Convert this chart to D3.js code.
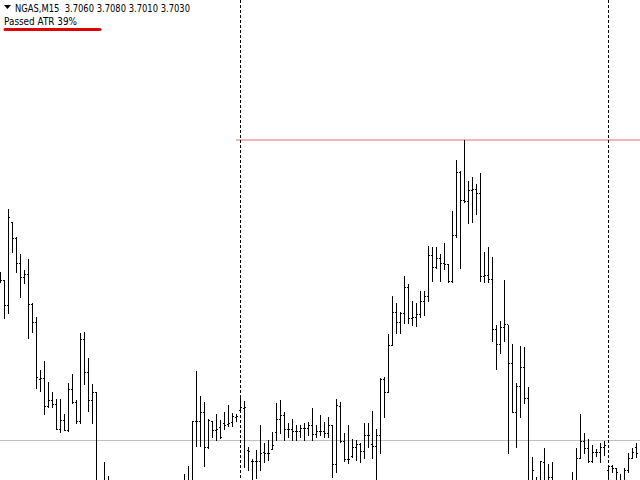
<!DOCTYPE html>
<html>
<head>
<meta charset="utf-8">
<script src="https://cdn.jsdelivr.net/npm/d3@7"></script>
<style>
  html, body { margin: 0; padding: 0; background: #ffffff; }
  svg { display: block; }
</style>
</head>
<body>
<svg id="chart" width="640" height="480"></svg>
<script>
const symbol = "NGAS";
const timeframe = "M15";
const indicatorLabel = "Passed ATR 39%";

const open = [
  3.7920, 3.7895, 3.7770, 3.8185, 3.8105, 3.7980, 3.7910, 3.7925, 3.7775, 3.7685,
  3.7400, 3.7405, 3.7265, 3.7295, 3.7275, 3.7150, 3.7195, 3.7145, 3.7350, 3.7285,
  3.7190, 3.7600, 3.7435, 3.7295, 3.7335, 3.6745, 3.6695, 3.6770, 3.6735, 3.6645,
  3.6695, 3.6670, 3.6595, 3.6645, 3.6735, 3.6695, 3.6655, 3.6720, 3.6755, 3.6705,
  3.6745, 3.6795, 3.6770, 3.6805, 3.6835, 3.6795, 3.6820, 3.6845, 3.6825, 3.7190,
  3.7190, 3.7235, 3.7060, 3.7190, 3.7145, 3.7160, 3.7180, 3.7175, 3.7185, 3.7210,
  3.7245, 3.7255, 3.7045, 3.6990, 3.6990, 3.6990, 3.7035, 3.7030, 3.7050, 3.7135,
  3.7200, 3.7220, 3.7150, 3.7150, 3.7140, 3.7140, 3.7155, 3.7155, 3.7170, 3.7125,
  3.7140, 3.7140, 3.7130, 3.7170, 3.6975, 3.7265, 3.7090, 3.7000, 3.7015, 3.7060,
  3.7075, 3.7040, 3.7120, 3.7075, 3.7065, 3.7120, 3.7400, 3.7335, 3.7570, 3.7735,
  3.7685, 3.7730, 3.7860, 3.7705, 3.7710, 3.7725, 3.7790, 3.7815, 3.8020, 3.7960,
  3.8005, 3.7980, 3.7975, 3.7890, 3.8120, 3.8435, 3.8295, 3.8290, 3.8345, 3.8350,
  3.8330, 3.7915, 3.7920, 3.7900, 3.7650, 3.7575, 3.7660, 3.7675, 3.7480, 3.7235,
  3.7365, 3.7460, 3.7305, 3.6845, 3.6870, 3.6820, 3.6985, 3.6870, 3.6910, 3.6820,
  3.6745, 3.6770, 3.6805, 3.6845, 3.6870, 3.7005, 3.7090, 3.7055, 3.6990, 3.7035,
  3.7035, 3.7060, 3.6945, 3.6965, 3.6955, 3.6895, 3.6870, 3.6945, 3.7005, 3.7060
];
const high = [
  3.7935, 3.7895, 3.8250, 3.8185, 3.8110, 3.8025, 3.7945, 3.8000, 3.7780, 3.7710,
  3.7445, 3.7490, 3.7385, 3.7335, 3.7300, 3.7300, 3.7225, 3.7380, 3.7425, 3.7295,
  3.7630, 3.7635, 3.7505, 3.7375, 3.7335, 3.6845, 3.6985, 3.6915, 3.6820, 3.6745,
  3.6795, 3.6770, 3.6720, 3.6770, 3.6805, 3.6795, 3.6745, 3.6795, 3.6820, 3.6770,
  3.6835, 3.6855, 3.6825, 3.6870, 3.6875, 3.6855, 3.6925, 3.6965, 3.7190, 3.7440,
  3.7315, 3.7285, 3.7200, 3.7190, 3.7225, 3.7195, 3.7235, 3.7270, 3.7230, 3.7225,
  3.7315, 3.7290, 3.7060, 3.7000, 3.7045, 3.7170, 3.7080, 3.7095, 3.7135, 3.7280,
  3.7295, 3.7235, 3.7180, 3.7200, 3.7170, 3.7170, 3.7180, 3.7185, 3.7255, 3.7170,
  3.7220, 3.7185, 3.7210, 3.7170, 3.7300, 3.7285, 3.7130, 3.7170, 3.7100, 3.7095,
  3.7080, 3.7180, 3.7180, 3.7240, 3.7150, 3.7405, 3.7410, 3.7625, 3.7815, 3.7780,
  3.7735, 3.7915, 3.7875, 3.7790, 3.7780, 3.7840, 3.7840, 3.8065, 3.8060, 3.8060,
  3.8025, 3.8080, 3.7975, 3.8240, 3.8495, 3.8440, 3.8595, 3.8390, 3.8410, 3.8375,
  3.8430, 3.8035, 3.8060, 3.8010, 3.7670, 3.7690, 3.7895, 3.7670, 3.7575, 3.7380,
  3.7565, 3.7560, 3.7360, 3.7010, 3.6910, 3.6990, 3.7055, 3.6975, 3.6985, 3.6845,
  3.6820, 3.6855, 3.6875, 3.6935, 3.7055, 3.7225, 3.7130, 3.7100, 3.7070, 3.7050,
  3.7080, 3.7090, 3.6970, 3.6970, 3.6955, 3.6925, 3.6955, 3.7030, 3.7055, 3.7080
];
const low = [
  3.7885, 3.7705, 3.7730, 3.8035, 3.7935, 3.7810, 3.7880, 3.7605, 3.7635, 3.7355,
  3.7340, 3.7225, 3.7260, 3.7260, 3.7150, 3.7135, 3.7145, 3.7140, 3.7280, 3.7180,
  3.7180, 3.7375, 3.7240, 3.7180, 3.6695, 3.6645, 3.6655, 3.6695, 3.6595, 3.6570,
  3.6620, 3.6555, 3.6520, 3.6595, 3.6645, 3.6605, 3.6570, 3.6645, 3.6670, 3.6620,
  3.6685, 3.6720, 3.6695, 3.6735, 3.6755, 3.6720, 3.6745, 3.6770, 3.6795, 3.7065,
  3.7065, 3.6965, 3.7055, 3.7110, 3.7095, 3.7105, 3.7150, 3.7165, 3.7165, 3.7190,
  3.7235, 3.6960, 3.6945, 3.6900, 3.6905, 3.6945, 3.6985, 3.6995, 3.7050, 3.7095,
  3.7130, 3.7095, 3.7110, 3.7095, 3.7095, 3.7110, 3.7095, 3.7120, 3.7095, 3.7110,
  3.7120, 3.7110, 3.7110, 3.6910, 3.6935, 3.7085, 3.6990, 3.6980, 3.7010, 3.6995,
  3.6985, 3.7005, 3.7060, 3.7005, 3.6820, 3.7030, 3.7210, 3.7335, 3.7570, 3.7630,
  3.7630, 3.7680, 3.7680, 3.7670, 3.7665, 3.7710, 3.7720, 3.7790, 3.7890, 3.7955,
  3.7890, 3.7950, 3.7885, 3.7885, 3.8110, 3.7955, 3.8285, 3.8180, 3.8185, 3.8225,
  3.7890, 3.7885, 3.7885, 3.7590, 3.7450, 3.7530, 3.7590, 3.7030, 3.7235, 3.7060,
  3.7210, 3.7280, 3.6795, 3.6770, 3.6745, 3.6795, 3.6820, 3.6795, 3.6770, 3.6670,
  3.6645, 3.6695, 3.6720, 3.6795, 3.6820, 3.7005, 3.7030, 3.6985, 3.6985, 3.7015,
  3.6985, 3.7020, 3.6845, 3.6935, 3.6845, 3.6820, 3.6845, 3.6935, 3.7005, 3.7010
];
const close = [
  3.7895, 3.7770, 3.8210, 3.8105, 3.7980, 3.7910, 3.7925, 3.7775, 3.7685, 3.7410,
  3.7405, 3.7265, 3.7295, 3.7275, 3.7150, 3.7195, 3.7145, 3.7350, 3.7285, 3.7190,
  3.7600, 3.7435, 3.7295, 3.7335, 3.6745, 3.6695, 3.6770, 3.6735, 3.6645, 3.6695,
  3.6670, 3.6595, 3.6645, 3.6735, 3.6695, 3.6655, 3.6720, 3.6755, 3.6705, 3.6745,
  3.6795, 3.6770, 3.6805, 3.6835, 3.6795, 3.6820, 3.6845, 3.6825, 3.7190, 3.7190,
  3.7235, 3.7060, 3.7195, 3.7145, 3.7150, 3.7110, 3.7170, 3.7180, 3.7215, 3.7215,
  3.7260, 3.7260, 3.7040, 3.6990, 3.6990, 3.7030, 3.7030, 3.7030, 3.7070, 3.7200,
  3.7220, 3.7150, 3.7150, 3.7140, 3.7140, 3.7155, 3.7155, 3.7170, 3.7125, 3.7140,
  3.7140, 3.7130, 3.7170, 3.6975, 3.7270, 3.7090, 3.7000, 3.7000, 3.7060, 3.7075,
  3.7040, 3.7120, 3.7120, 3.7065, 3.7120, 3.7400, 3.7335, 3.7570, 3.7735, 3.7685,
  3.7730, 3.7860, 3.7705, 3.7710, 3.7725, 3.7790, 3.7815, 3.8020, 3.7960, 3.8005,
  3.7980, 3.7975, 3.7890, 3.8120, 3.8435, 3.8295, 3.8290, 3.8345, 3.8350, 3.8330,
  3.7915, 3.7920, 3.7900, 3.7650, 3.7575, 3.7660, 3.7675, 3.7480, 3.7235, 3.7365,
  3.7460, 3.7305, 3.6845, 3.6945, 3.6820, 3.6990, 3.6870, 3.6910, 3.6820, 3.6745,
  3.6770, 3.6805, 3.6845, 3.6870, 3.7005, 3.7090, 3.7055, 3.6990, 3.7035, 3.7035,
  3.7060, 3.7070, 3.6965, 3.6955, 3.6935, 3.6870, 3.6945, 3.7005, 3.7035, 3.7030
];

// day separators (bar indices), horizontal levels
const separators = [60, 152];
const greyLevel = 3.7095;
const redLevel = 3.8595;
const redLevelStart = 59;
const priceRange = [3.6895, 3.9295];

const W = 640, H = 480;
const svg = d3.select("#chart");
svg.append("rect").attr("width", W).attr("height", H).attr("fill", "#ffffff");

const n = open.length;
const x = d3.scaleLinear().domain([0, n]).range([0, W]);
const y = d3.scaleLinear().domain(priceRange).range([H, 0]);
const px = i => Math.round(x(i));
const py = v => Math.round(y(v));

// grey horizontal line
svg.append("rect")
  .attr("x", 0).attr("y", py(greyLevel)).attr("width", W).attr("height", 1)
  .attr("fill", "#c0c0c0");

// red horizontal level
svg.append("rect")
  .attr("x", px(redLevelStart)).attr("y", py(redLevel) - 1)
  .attr("width", W - px(redLevelStart)).attr("height", 2)
  .attr("fill", "#f2b5b9");

// period separators
svg.selectAll("line.sep").data(separators).enter().append("line")
  .attr("class", "sep")
  .attr("x1", d => px(d) + 0.5).attr("x2", d => px(d) + 0.5)
  .attr("y1", 0).attr("y2", H)
  .attr("stroke", "#000").attr("stroke-width", 1)
  .attr("stroke-dasharray", "3,2");

const idx = d3.range(n);
const g = svg.append("g").attr("shape-rendering", "crispEdges");

// high-low stems
g.selectAll("rect.hl").data(idx).enter().append("rect")
  .attr("class", "hl")
  .attr("x", i => px(i))
  .attr("y", i => py(high[i]))
  .attr("width", 1)
  .attr("height", i => py(low[i]) - py(high[i]) + 1)
  .attr("fill", "#000");

// open ticks (left)
g.selectAll("rect.op").data(idx).enter().append("rect")
  .attr("class", "op")
  .attr("x", i => px(i) - 1)
  .attr("y", i => py(open[i]))
  .attr("width", 1).attr("height", 1)
  .attr("fill", "#000");

// close ticks (right)
g.selectAll("rect.cl").data(idx).enter().append("rect")
  .attr("class", "cl")
  .attr("x", i => px(i) + 1)
  .attr("y", i => py(close[i]))
  .attr("width", 1).attr("height", 1)
  .attr("fill", "#000");

// header
const last = n - 1;
const fmt = v => v.toFixed(4);
svg.append("path")
  .attr("d", "M4,5 L11,5 L7.5,9 Z")
  .attr("fill", "#000");
svg.append("text")
  .attr("x", 15).attr("y", 12)
  .style("white-space", "pre")
  .attr("font-family", "Tahoma, 'DejaVu Sans', sans-serif")
  .attr("font-size", 11)
  .attr("fill", "#000")
  .attr("textLength", 175)
  .attr("lengthAdjust", "spacingAndGlyphs")
  .text(`${symbol},${timeframe}  ${fmt(open[last])} ${fmt(high[last])} ${fmt(low[last])} ${fmt(close[last])}`);

svg.append("text")
  .attr("x", 4).attr("y", 25)
  .attr("font-family", "Tahoma, 'DejaVu Sans', sans-serif")
  .attr("font-size", 11)
  .attr("fill", "#000")
  .attr("textLength", 73)
  .attr("lengthAdjust", "spacingAndGlyphs")
  .text(indicatorLabel);

svg.append("line")
  .attr("x1", 5).attr("x2", 100)
  .attr("y1", 29.5).attr("y2", 29.5)
  .attr("stroke", "#e00000").attr("stroke-width", 3)
  .attr("stroke-linecap", "round");
</script>
</body>
</html>
